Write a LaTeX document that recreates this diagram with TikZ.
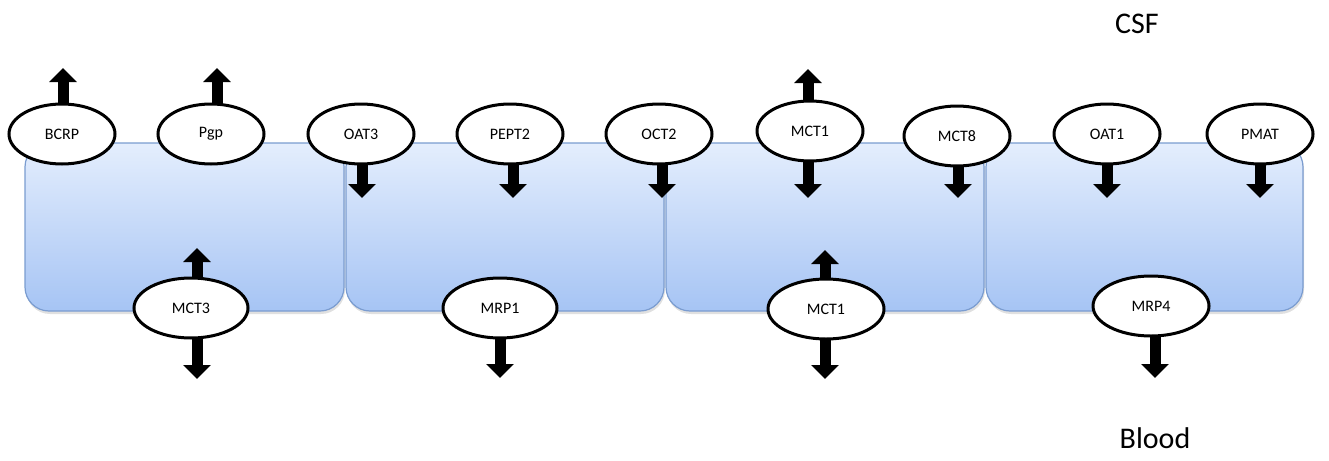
\documentclass[tikz,border=0pt]{standalone}
\usepackage{fontspec}
\setmainfont{Carlito}
\usetikzlibrary{arrows.meta,shapes.geometric}
\definecolor{celltop}{HTML}{E4EEFD}
\definecolor{cellbot}{HTML}{A6C4F4}
\definecolor{cellline}{HTML}{7A9CD0}
\tikzset{
  cell/.style={rounded corners=24pt, top color=celltop, bottom color=cellbot, draw=cellline, line width=1.2pt},
  cellshadow/.style={rounded corners=24pt, fill=black, opacity=0.12},
  tp/.style={ellipse, draw=black, line width=3pt, fill=white, minimum width=106pt, minimum height=60pt, inner sep=0pt, font=\fontsize{16}{18}\selectfont},
  flow/.style={line width=11pt, -{Triangle[width=27pt,length=14pt]}},
  side/.style={font=\fontsize{30}{34}\selectfont}
}
\begin{document}
\begin{tikzpicture}[x=1pt,y=-1pt]
\useasboundingbox (0,0) rectangle (1329,460);
% cells
\foreach \a/\b in {25/344, 346/664, 666/984, 986/1303}{
  \path[cellshadow] (\a+1,145) rectangle (\b+1,314);
  \path[cell] (\a,143) rectangle (\b,311);
}
% labels
\node[side] (csf) at (1137,24) {CSF};
\node[side] (blood) at (1155,438) {Blood};
% transporters (top)
\node[tp] (bcrp)  at (62,134)   {BCRP};
\node[tp] (pgp)   at (211,134)  {Pgp};
\node[tp] (oat3)  at (361,134)  {OAT3};
\node[tp] (pept2) at (510,134)  {PEPT2};
\node[tp] (oct2)  at (659,134)  {OCT2};
\node[tp] (mct1a) at (810,131)  {MCT1};
\node[tp] (mct8)  at (957,136)  {MCT8};
\node[tp] (oat1)  at (1107,134) {OAT1};
\node[tp] (pmat)  at (1260,134) {PMAT};
% transporters (bottom)
\node[tp, minimum width=114pt] (mct3)  at (191,308)  {MCT3};
\node[tp, minimum width=114pt] (mrp1)  at (500,308)  {MRP1};
\node[tp, minimum width=116pt] (mct1b) at (826,309)  {MCT1};
\node[tp, minimum width=116pt] (mrp4)  at (1151,306) {MRP4};
% arrow end points
\coordinate (bcrpU)  at (63,68);
\coordinate (pgpU)   at (217,68);
\coordinate (oat3D)  at (362,198);
\coordinate (pept2D) at (513,198);
\coordinate (oct2D)  at (662,198);
\coordinate (mct1aU) at (808,69);
\coordinate (mct1aD) at (808,198);
\coordinate (mct8D)  at (958,198);
\coordinate (oat1D)  at (1107,198);
\coordinate (pmatD)  at (1260,198);
\coordinate (mct3U)  at (197,248);
\coordinate (mct3D)  at (197,379);
\coordinate (mrp1D)  at (500,378);
\coordinate (mct1bU) at (825,250);
\coordinate (mct1bD) at (825,379);
\coordinate (mrp4D)  at (1155,378);
% arrows
\draw[flow] (bcrp.north -| bcrpU) ++(0,2) -- (bcrpU);
\draw[flow] (pgp.north -| pgpU) ++(0,2) -- (pgpU);
\draw[flow] (oat3.south -| oat3D) ++(0,-2) -- (oat3D);
\draw[flow] (pept2.south -| pept2D) ++(0,-2) -- (pept2D);
\draw[flow] (oct2.south -| oct2D) ++(0,-2) -- (oct2D);
\draw[flow] (mct1a.north -| mct1aU) ++(0,2) -- (mct1aU);
\draw[flow] (mct1a.south -| mct1aD) ++(0,-2) -- (mct1aD);
\draw[flow] (mct8.south -| mct8D) ++(0,-2) -- (mct8D);
\draw[flow] (oat1.south -| oat1D) ++(0,-2) -- (oat1D);
\draw[flow] (pmat.south -| pmatD) ++(0,-2) -- (pmatD);
\draw[flow] (mct3.north -| mct3U) ++(0,2) -- (mct3U);
\draw[flow] (mct3.south -| mct3D) ++(0,-2) -- (mct3D);
\draw[flow] (mrp1.south -| mrp1D) ++(0,-2) -- (mrp1D);
\draw[flow] (mct1b.north -| mct1bU) ++(0,2) -- (mct1bU);
\draw[flow] (mct1b.south -| mct1bD) ++(0,-2) -- (mct1bD);
\draw[flow] (mrp4.south -| mrp4D) ++(0,-2) -- (mrp4D);
\end{tikzpicture}
\end{document}
